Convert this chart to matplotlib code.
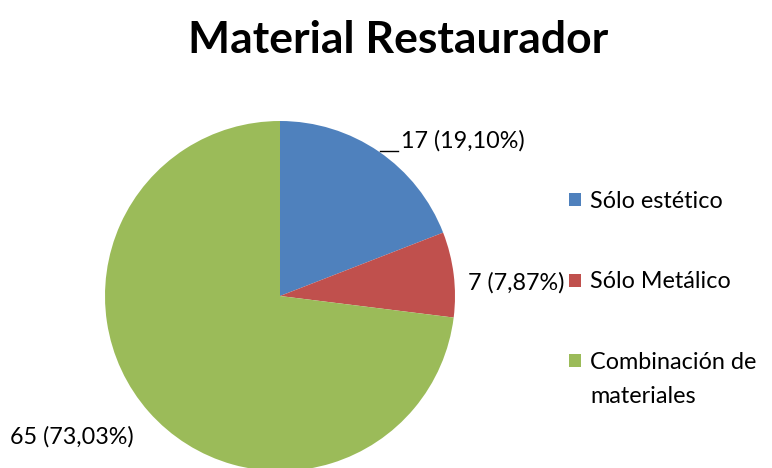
import numpy as np
import matplotlib
matplotlib.use("Agg")
import matplotlib.pyplot as plt

title = "Material Restaurador"
categories = ["Sólo estético", "Sólo Metálico", "Combinación de\nmateriales"]
counts = [17, 7, 65]
pct_labels = ["19,10%", "7,87%", "73,03%"]
colors = ["#4F81BD", "#C0504D", "#9BBB59"]

plt.rcParams["font.family"] = ["Lato", "DejaVu Sans"]

W, H = 772, 468
fig = plt.figure(figsize=(W / 100, H / 100), dpi=100)

# pie centre and radius in pixels
cx, cy, r = 280, 296, 175
ax = fig.add_axes([(cx - r) / W, (H - cy - r) / H, 2 * r / W, 2 * r / H])
wedges, _ = ax.pie(counts, colors=colors, startangle=90, counterclock=False,
                   radius=1, wedgeprops={"linewidth": 0})
ax.set_xlim(-1, 1)
ax.set_ylim(-1, 1)
ax.set_aspect("equal")
ax.axis("off")

fs = 16.8
lbls = [f"{c} ({p})" for c, p in zip(counts, pct_labels)]
ax.text(0.692, 0.886, lbls[0], fontsize=fs, va="center", ha="left", clip_on=False)
ax.plot([0.571, 0.674], [0.829, 0.829], color="black", lw=1, clip_on=False)
ax.text(1.074, 0.074, lbls[1], fontsize=fs, va="center", ha="left", clip_on=False)
ax.text(-1.543, -0.806, lbls[2], fontsize=fs, va="center", ha="left", clip_on=False)

fig.text(398 / W, 1 - 40 / H, title, fontsize=32, fontweight="bold",
         ha="center", va="center")

# legend: the handle sits next to the first line of each label (Excel style)
first_lines = [c.split("\n")[0] for c in categories]
leg = fig.legend(wedges, first_lines, loc="upper left",
                 bbox_to_anchor=(548 / W, 1 - 170 / H),
                 frameon=False, fontsize=fs, handlelength=0.5, handleheight=0.5,
                 handletextpad=0.42, labelspacing=2.55)
fig.canvas.draw()
for cat, txt in zip(categories, leg.get_texts()):
    rest = cat.split("\n")[1:]
    if rest:
        bb = txt.get_window_extent()
        fig.text(bb.x0 / W, (bb.y0 - 34) / H, "\n".join(rest), fontsize=fs,
                 ha="left", va="bottom")

fig.savefig("out.png", dpi=100)
